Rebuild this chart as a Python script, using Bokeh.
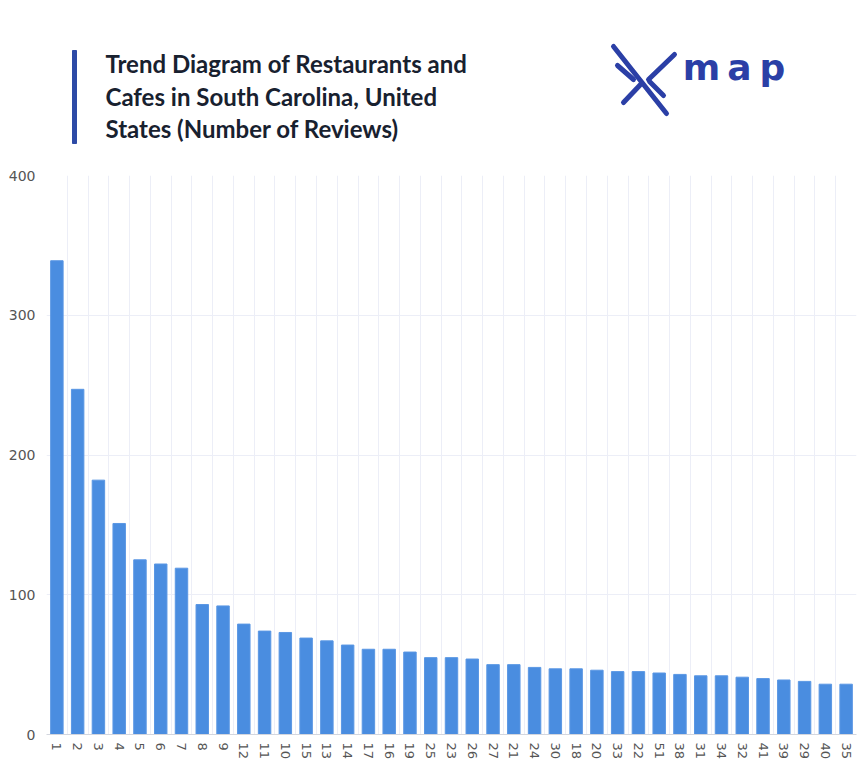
from bokeh.plotting import figure
from bokeh.models import Range1d, FixedTicker
from bokeh.layouts import column
from bokeh.embed import file_html
from bokeh.resources import INLINE
from bokeh.core.properties import value

categories = ["1", "2", "3", "4", "5", "6", "7", "8", "9", "12", "11", "10", "15", "13",
              "14", "17", "16", "19", "25", "23", "26", "27", "21", "24", "30", "18", "20",
              "33", "22", "51", "38", "31", "34", "32", "41", "39", "29", "40", "35"]
reviews = [339, 247, 182, 151, 125, 122, 119, 93, 92, 79, 74, 73, 69, 67,
           64, 61, 61, 59, 55, 55, 54, 50, 50, 48, 47, 47, 46,
           45, 45, 44, 43, 42, 42, 41, 40, 39, 38, 36, 36]
y_ticks = [0, 100, 200, 300, 400]
title_lines = ["Trend Diagram of Restaurants and",
               "Cafes in South Carolina, United",
               "States (Number of Reviews)"]
logo_letters = ["m", "a", "p"]

BLUE = "#2b3fa6"
W = 858
LEFT, RIGHT = 46, 2

# ---------- header (title + logo); frame is aligned with the chart frame ----------
header = figure(width=W, height=166, x_range=Range1d(LEFT, W - RIGHT), y_range=Range1d(166, 0),
                output_backend="svg", toolbar_location=None,
                x_axis_type=None, y_axis_type=None,
                min_border_left=LEFT, min_border_right=RIGHT, min_border_top=0, min_border_bottom=0)
header.outline_line_color = None

header.quad(left=[72], right=[76], top=[50], bottom=[143], color="#2d4aa6")
header.text(x=[105, 105, 105], y=[63, 96, 128], text=title_lines,
            text_font=value("Lato"), text_font_style="bold", text_font_size="24px",
            text_color="#18212f", text_baseline="alphabetic", text_align="left")

header.multi_line(xs=[[613, 666], [617, 633], [641, 623], [674, 648], [649, 663]],
                  ys=[[46, 113], [65, 79], [83, 102], [54, 79], [81, 95]],
                  line_width=5, line_color=BLUE, line_cap="round")
header.text(x=[701, 739, 772], y=[67, 67, 67], text=logo_letters,
            text_font=value("DejaVu Sans"), text_font_style="bold", text_font_size="36px",
            text_color=BLUE, text_baseline="alphabetic", text_align="center")

# ---------- bar chart ----------
n = len(categories)
xs = list(range(1, n + 1))
p = figure(width=W, height=596, x_range=Range1d(0.5, n + 0.5), y_range=Range1d(0, 400),
           output_backend="svg", toolbar_location=None,
           min_border_left=LEFT, min_border_right=RIGHT, min_border_top=9, min_border_bottom=26)
p.outline_line_color = None

p.vbar(x=xs, top=reviews, width=0.6, fill_color="#4a8de0", line_color="#5a97e4")

p.xaxis.ticker = FixedTicker(ticks=xs)
p.xaxis.major_label_overrides = {i: c for i, c in zip(xs, categories)}
p.xaxis.major_label_orientation = "vertical"
p.xaxis.major_label_standoff = 8
p.xaxis.axis_line_color = "#d3d6de"
p.yaxis.ticker = FixedTicker(ticks=y_ticks)
p.yaxis.major_label_standoff = 11
p.yaxis.axis_line_color = None
for ax in (p.xaxis, p.yaxis):
    ax.major_tick_line_color = None
    ax.minor_tick_line_color = None
    ax.major_tick_out = 0
    ax.major_label_text_font = "DejaVu Sans"
    ax.major_label_text_font_size = "13px"
    ax.major_label_text_color = "#555555"
p.yaxis.major_label_text_font_size = "14px"

p.xgrid.ticker = FixedTicker(ticks=[i + 0.5 for i in range(0, n + 1)])
p.xgrid.grid_line_color = "#eceef7"
p.ygrid.grid_line_color = "#eceef7"

layout = column(header, p)
open("out.html", "w").write(file_html(layout, INLINE))
